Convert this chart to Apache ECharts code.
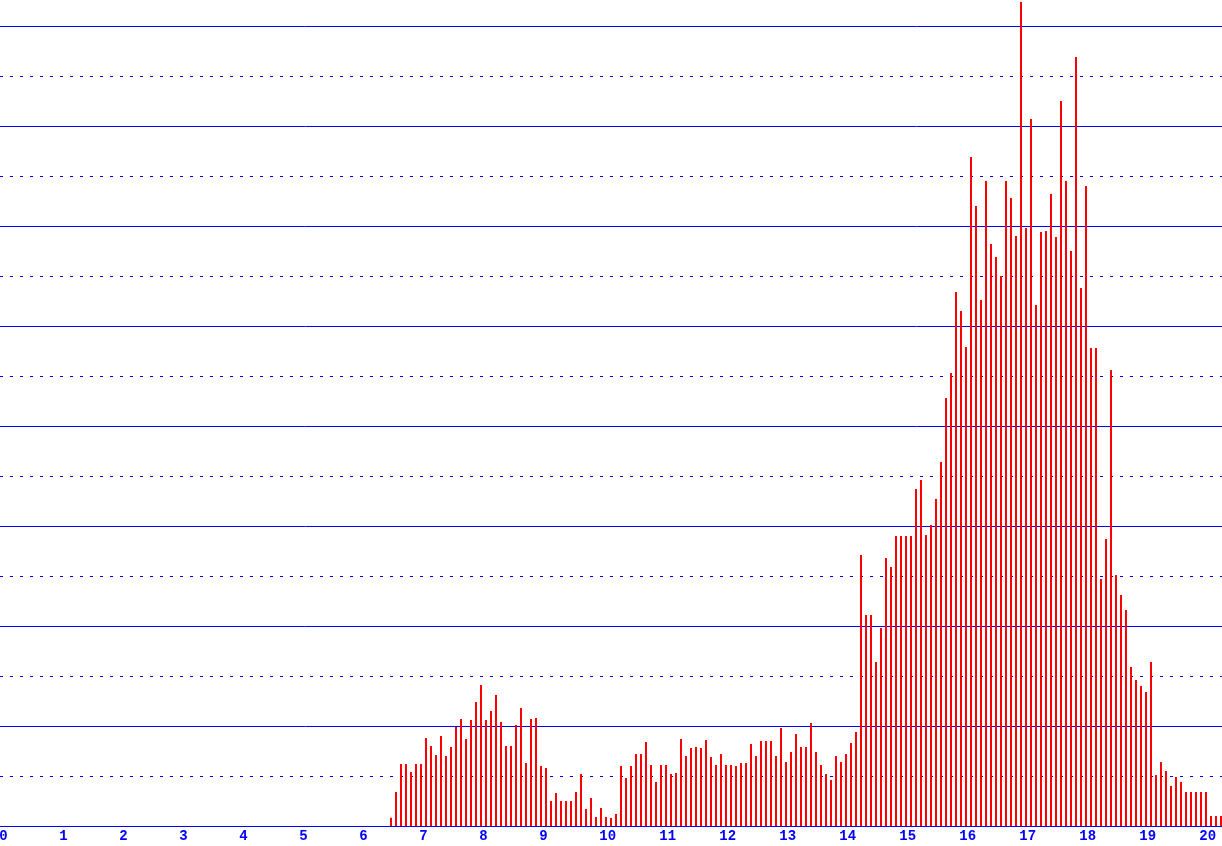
<!DOCTYPE html>
<html>
<head>
<meta charset="utf-8">
<script src="https://cdn.jsdelivr.net/npm/echarts@6/dist/echarts.min.js"></script>
<style>
  html, body { margin: 0; padding: 0; background: #ffffff; }
  #chart { width: 1222px; height: 846px; }
</style>
</head>
<body>
<div id="chart"></div>
<script>
// 5-minute bins, first bin 06:25-06:30
const firstBinStartHour = 6;
const firstBinStartMinute = 25;
const binMinutes = 5;

// bar heights, one per 5-minute bin (major gridline = 10)
const counts = [
  0.83, 3.4, 6.2, 6.2, 5.4, 6.2, 6.2, 8.8, 8.0, 7.1,
  9.0, 7.0, 7.9, 9.9, 10.7, 8.7, 10.6, 12.4, 14.1, 10.6,
  11.5, 13.1, 10.4, 8.0, 8.0, 10.1, 11.8, 6.3, 10.7, 10.8,
  6.0, 5.8, 2.5, 3.3, 2.5, 2.5, 2.5, 3.4, 5.2, 1.7,
  2.8, 0.9, 1.8, 0.9, 0.8, 1.2, 6.0, 4.8, 6.0, 7.2,
  7.2, 8.4, 6.1, 4.4, 6.1, 6.1, 5.2, 5.3, 8.7, 7.0,
  7.8, 7.9, 7.8, 8.6, 6.9, 6.1, 7.2, 6.1, 6.1, 6.0,
  6.3, 6.3, 8.2, 7.0, 8.5, 8.5, 8.5, 7.0, 9.8, 6.4,
  7.4, 9.2, 7.9, 7.9, 10.3, 7.4, 6.1, 5.2, 4.6, 7.0,
  6.4, 7.2, 8.3, 9.4, 27.1, 21.1, 21.1, 16.4, 19.8, 26.8,
  25.9, 29.0, 29.0, 29.0, 29.0, 33.7, 34.6, 29.1, 30.1, 32.7,
  36.4, 42.8, 45.3, 53.4, 51.5, 47.9, 66.9, 62.0, 52.6, 64.5,
  58.2, 56.9, 55.0, 64.5, 62.8, 59.0, 82.4, 59.8, 70.7, 52.1,
  59.4, 59.5, 63.2, 58.9, 72.5, 64.5, 57.5, 76.9, 53.8, 64.0,
  47.8, 47.8, 24.7, 28.7, 45.6, 25.1, 23.1, 21.6, 15.9, 14.6,
  14.0, 13.4, 16.4, 5.1, 6.4, 5.5, 4.0, 4.9, 4.4, 3.4,
  3.4, 3.4, 3.4, 3.4, 1.0, 1.0, 1.0
];

// x-axis tick labels (hours)
const xTickValues = [0,1,2,3,4,5,6,7,8,9,10,11,12,13,14,15,16,17,18,19,20];

const BLUE = '#0000ff';
const RED = '#ff0000';
const FONT = 'Liberation Mono';

// each bar is placed at the centre of its 5-minute bin
const barData = counts.map(function (v, i) {
  const centerMin = firstBinStartHour * 60 + firstBinStartMinute + i * binMinutes + binMinutes / 2;
  return [centerMin / 60, v];
});

const chart = echarts.init(document.getElementById('chart'), null, { renderer: 'canvas' });
chart.setOption({
  backgroundColor: '#ffffff',
  animation: false,
  grid: { left: 0, right: 0, top: -74, bottom: 20, containLabel: false, outerBoundsMode: 'none' },
  xAxis: {
    type: 'value',
    min: -0.058333,
    max: 20.308333,
    axisLine: { show: true, lineStyle: { color: BLUE, width: 1 } },
    axisTick: { show: false },
    splitLine: { show: false },
    axisLabel: {
      customValues: xTickValues,
      margin: 3,
      color: BLUE,
      fontFamily: FONT,
      fontWeight: 'bold',
      fontSize: 14,
      hideOverlap: false,
      formatter: function (v) {
        return v >= 10 ? '{w|' + v + '}' : '{n|' + v + '}';
      },
      rich: {
        n: { color: BLUE, fontFamily: FONT, fontWeight: 'bold', fontSize: 14 },
        w: { color: BLUE, fontFamily: FONT, fontWeight: 'bold', fontSize: 14, padding: [0, 0, 0, 8.4] }
      }
    }
  },
  yAxis: {
    type: 'value',
    min: 0,
    max: 90,
    interval: 10,
    axisLine: { show: false },
    axisTick: { show: false },
    axisLabel: { show: false },
    splitLine: { show: true, lineStyle: { color: BLUE, width: 1, type: 'solid' } },
    minorTick: { show: false, splitNumber: 2 },
    minorSplitLine: { show: true, lineStyle: { color: BLUE, width: 1, type: [3, 7], dashOffset: 0 } }
  },
  series: [{
    type: 'bar',
    data: barData,
    barWidth: 2,
    itemStyle: { color: RED },
    silent: true
  }]
});
</script>
</body>
</html>
